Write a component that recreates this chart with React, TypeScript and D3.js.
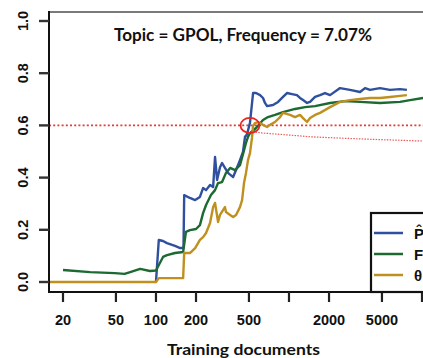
import React from "react";
import * as d3 from "d3";

type Pt = [number, number];

const xTicks = [20, 50, 100, 200, 500, 1000, 2000, 5000, 10000];
const xTickLabels = ["20", "50", "100", "200", "500", "", "2000", "5000", ""];
const yTicks = [0, 0.2, 0.4, 0.6, 0.8, 1.0];
const yTickLabels = ["0.0", "0.2", "0.4", "0.6", "0.8", "1.0"];

const title = "Topic = GPOL, Frequency = 7.07%";
const xLabel = "Training documents";
const legendLabels = ["P\u0302", "F", "\u03B8"];
const threshold = 0.6;
const crossing: Pt = [509, 0.6];

const pHat: Pt[] = [
  [100, 0], [105, 0.161], [113, 0.157], [121, 0.149], [139, 0.138], [152, 0.13], [161, 0.13],
  [163, 0.333], [180, 0.322], [197, 0.314], [214, 0.326], [226, 0.36], [238, 0.352], [255, 0.372],
  [269, 0.364], [278, 0.479], [288, 0.391], [303, 0.44], [314, 0.456], [330, 0.437], [348, 0.418],
  [380, 0.402], [400, 0.429], [428, 0.467], [451, 0.498], [467, 0.556], [483, 0.565], [509, 0.61],
  [537, 0.724], [565, 0.724], [606, 0.716], [638, 0.705], [660, 0.686], [684, 0.674], [758, 0.678],
  [828, 0.69], [902, 0.709], [966, 0.724], [1054, 0.72], [1148, 0.716], [1210, 0.705], [1276, 0.697],
  [1367, 0.686], [1440, 0.69], [1570, 0.709], [1711, 0.716], [1866, 0.724], [2036, 0.716],
  [2421, 0.743], [2876, 0.736], [3420, 0.728], [3732, 0.743], [4068, 0.736], [4836, 0.743],
  [5750, 0.736], [6836, 0.739], [7700, 0.736],
];

const fSeries: Pt[] = [
  [20, 0.046], [32, 0.038], [49, 0.034], [58, 0.031], [64, 0.038], [76, 0.05], [90, 0.042],
  [100, 0.044], [107, 0.073], [113, 0.096], [121, 0.103], [139, 0.111], [160, 0.115], [168, 0.192],
  [180, 0.199], [200, 0.203], [214, 0.218], [226, 0.264], [238, 0.295], [259, 0.333], [278, 0.352],
  [293, 0.379], [314, 0.383], [336, 0.418], [361, 0.437], [393, 0.429], [428, 0.448], [451, 0.49],
  [475, 0.533], [492, 0.556], [509, 0.57], [565, 0.59], [638, 0.621], [695, 0.632], [785, 0.64],
  [902, 0.651], [1110, 0.663], [1320, 0.67], [1570, 0.674], [2036, 0.686], [2638, 0.693],
  [3420, 0.69], [4836, 0.686], [6836, 0.69], [8130, 0.697], [10180, 0.705],
];

const theta: Pt[] = [
  [10, 0], [100, 0], [105, 0.015], [160, 0.015], [163, 0.111], [180, 0.111], [197, 0.13],
  [214, 0.161], [226, 0.172], [238, 0.188], [255, 0.226], [269, 0.287], [278, 0.303], [293, 0.23],
  [303, 0.257], [330, 0.287], [336, 0.268], [361, 0.257], [380, 0.249], [400, 0.257], [428, 0.287],
  [444, 0.314], [459, 0.379], [475, 0.418], [492, 0.467], [509, 0.494], [527, 0.552], [537, 0.598],
  [556, 0.609], [585, 0.613], [638, 0.602], [684, 0.594], [720, 0.602], [785, 0.613], [857, 0.632],
  [902, 0.648], [1018, 0.64], [1110, 0.632], [1210, 0.64], [1276, 0.628], [1367, 0.613],
  [1440, 0.628], [1570, 0.64], [1711, 0.648], [2036, 0.67], [2421, 0.69], [2876, 0.697],
  [3420, 0.701], [4068, 0.705], [4836, 0.705], [5750, 0.709], [6836, 0.713], [7700, 0.716],
];

const decay: Pt[] = [
  [560, 0.574], [627, 0.571], [1000, 0.563], [1490, 0.556], [2500, 0.551], [3540, 0.548], [6000, 0.544], [10190, 0.54],
];

const colors = ["#2f4f9f", "#1c6a32", "#bf901f"];

export default function App() {
  const x = d3.scaleLog().domain([20, 10000]).range([63, 422]);
  const y = d3.scaleLinear().domain([0, 1]).range([282, 21]);
  const line = d3
    .line<Pt>()
    .x((d) => x(d[0]))
    .y((d) => y(d[1]));

  const left = 49;
  const top = 12;
  const bottom = 292;
  const right = 423;
  const tickFont = "'Liberation Sans', Arial, sans-serif";
  const series = [pHat, fSeries, theta];

  return (
    <svg
      width={423}
      height={358}
      style={{ position: "absolute", left: 0, top: 0, background: "#fff" }}
    >
      <defs>
        <clipPath id="plot">
          <rect x={left} y={top} width={right - left + 20} height={bottom - top} />
        </clipPath>
      </defs>
      <rect x={0} y={0} width={423} height={358} fill="#fff" />

      {/* threshold line */}
      <line
        x1={left}
        x2={right}
        y1={y(threshold)}
        y2={y(threshold)}
        stroke="#e23a36"
        strokeWidth={1.6}
        strokeDasharray="2,2.2"
      />
      <g clipPath="url(#plot)">
        <path d={line(decay) || ""} fill="none" stroke="#ea5a5a" strokeWidth={1.2} strokeDasharray="1.5,1.3" />
        {series.map((s, i) => (
          <path key={i} d={line(s) || ""} fill="none" stroke={colors[i]} strokeWidth={2.4} strokeLinejoin="round" />
        ))}
      </g>
      <ellipse cx={x(crossing[0])} cy={y(crossing[1])} rx={9.5} ry={7.5} fill="none" stroke="#e8241f" strokeWidth={1.8} />

      {/* frame */}
      <line x1={left} x2={right} y1={top} y2={top} stroke="#7a7a7a" strokeWidth={2} />
      <line x1={left} x2={left} y1={top - 1} y2={bottom} stroke="#111" strokeWidth={2} />
      <line x1={left - 1} x2={right} y1={bottom} y2={bottom} stroke="#111" strokeWidth={2} />

      {/* y axis */}
      {yTicks.map((t, i) => (
        <g key={"y" + i}>
          <line x1={39} x2={left} y1={y(t)} y2={y(t)} stroke="#333" strokeWidth={2.4} />
          <text
            transform={`translate(27.5,${y(t)}) rotate(-90)`}
            textAnchor="middle"
            fontFamily={tickFont}
            fontWeight="bold"
            fontSize={14.5}
            fill="#111"
          >
            {yTickLabels[i]}
          </text>
        </g>
      ))}

      {/* x axis */}
      {xTicks.map((t, i) => (
        <g key={"x" + i}>
          <line x1={x(t)} x2={x(t)} y1={bottom} y2={302} stroke="#222" strokeWidth={2.2} />
          {xTickLabels[i] && (
            <text x={x(t)} y={324.5} textAnchor="middle" fontFamily={tickFont} fontWeight="bold" fontSize={14.5} fill="#111">
              {xTickLabels[i]}
            </text>
          )}
        </g>
      ))}

      {/* legend */}
      <rect x={371} y={213} width={80} height={bottom - 213} fill="#fff" stroke="#111" strokeWidth={2.2} />
      {legendLabels.map((l, i) => (
        <g key={"l" + i}>
          <line x1={374} x2={403} y1={233 + i * 21} y2={233 + i * 21} stroke={colors[i]} strokeWidth={2.5} />
          <text x={414} y={239 + i * 21} fontFamily={tickFont} fontWeight="bold" fontSize={15} fill="#111">
            {l}
          </text>
        </g>
      ))}

      {/* title and label */}
      <text
        x={243}
        y={41}
        textAnchor="middle"
        fontFamily="Lato, 'Open Sans', sans-serif"
        fontWeight="bold"
        fontSize={16.5}
        textLength={258}
        lengthAdjust="spacingAndGlyphs"
        fill="#111"
      >
        {title}
      </text>
      <text
        x={243.5}
        y={355}
        textAnchor="middle"
        fontFamily="Lato, 'Open Sans', sans-serif"
        fontWeight="bold"
        fontSize={15}
        textLength={153}
        lengthAdjust="spacingAndGlyphs"
        fill="#111"
      >
        {xLabel}
      </text>
    </svg>
  );
}
